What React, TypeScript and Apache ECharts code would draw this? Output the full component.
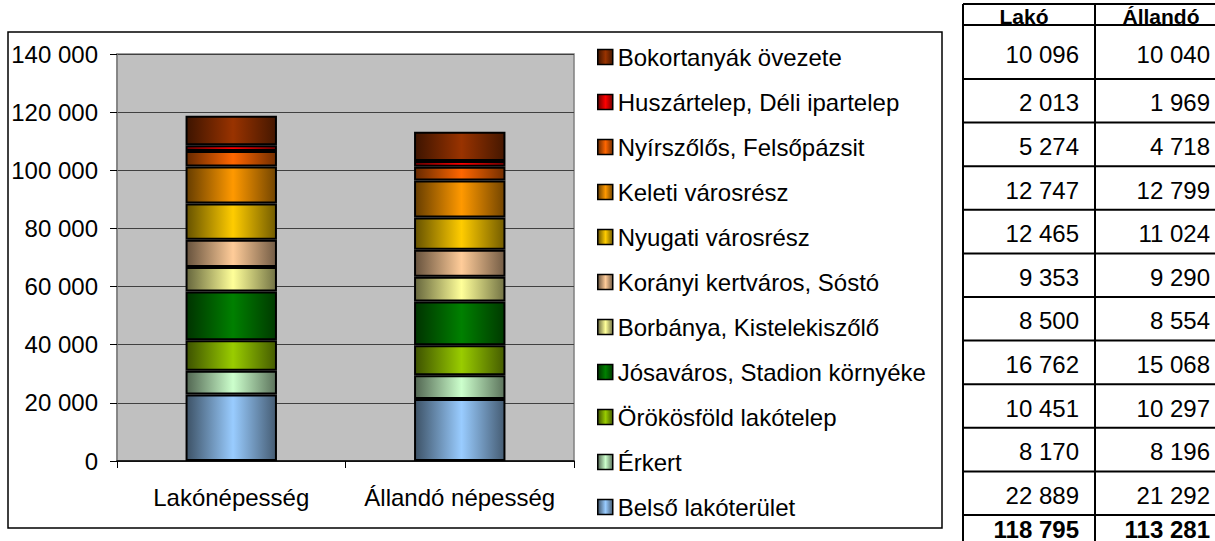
import React, { useEffect, useRef } from "react";
import * as echarts from "echarts";

const categories = ["Lakónépesség", "Állandó népesség"];
const districts = [
  "Belső lakóterület",
  "Érkert",
  "Örökösföld lakótelep",
  "Jósaváros, Stadion környéke",
  "Borbánya, Kistelekiszőlő",
  "Korányi kertváros, Sóstó",
  "Nyugati városrész",
  "Keleti városrész",
  "Nyírszőlős, Felsőpázsit",
  "Huszártelep, Déli ipartelep",
  "Bokortanyák övezete",
];
const lakoValues = [22889, 8170, 10451, 16762, 8500, 9353, 12465, 12747, 5274, 2013, 10096];
const allandoValues = [21292, 8196, 10297, 15068, 8554, 9290, 11024, 12799, 4718, 1969, 10040];
const totals = [118795, 113281];
const tableHeaders = ["Lakó", "Állandó"];
const colors = [
  "#99CCFF",
  "#CCFFCC",
  "#99CC00",
  "#008000",
  "#FFFF99",
  "#FFCC99",
  "#FFCC00",
  "#FF9900",
  "#FF6600",
  "#FF0000",
  "#993300",
];

const FONT = "'Liberation Sans', Arial, sans-serif";
const FS = 24;

function fmt(v: number): string {
  return String(v).replace(/\B(?=(\d{3})+(?!\d))/g, " ");
}

function shade(hex: string, f: number): string {
  const n = parseInt(hex.slice(1), 16);
  const r = Math.round(((n >> 16) & 255) * f);
  const g = Math.round(((n >> 8) & 255) * f);
  const b = Math.round((n & 255) * f);
  return `rgb(${r},${g},${b})`;
}

function grad(hex: string) {
  return new echarts.graphic.LinearGradient(0, 0, 1, 0, [
    { offset: 0, color: shade(hex, 0.4) },
    { offset: 0.52, color: hex },
    { offset: 1, color: shade(hex, 0.45) },
  ]);
}

function buildTable() {
  const els: any[] = [];
  const xL = 963;
  const xM = 1095;
  const xR = 1227;
  const top = 4;
  const headBottom = 25;
  const firstBottom = 79;
  const rowH = 43.6;
  const lines: number[] = [top, headBottom, firstBottom];
  for (let k = 1; k <= 10; k++) lines.push(firstBottom + k * rowH);
  lines.forEach((y) => {
    els.push({
      type: "line",
      shape: { x1: xL, y1: y, x2: xR, y2: y },
      style: { stroke: "#000", lineWidth: 2 },
    });
  });
  [xL, xM].forEach((x) => {
    els.push({
      type: "line",
      shape: { x1: x, y1: top, x2: x, y2: 541 },
      style: { stroke: "#000", lineWidth: 2 },
    });
  });
  const headY = 16;
  els.push({
    type: "text",
    x: (xL + xM) / 2 - 5,
    y: headY,
    style: { text: tableHeaders[0], fontSize: 21, fontFamily: FONT, fontWeight: "bold", fill: "#000", align: "center", verticalAlign: "middle" },
  });
  els.push({
    type: "text",
    x: (xM + xR) / 2,
    y: headY,
    style: { text: tableHeaders[1], fontSize: 21, fontFamily: FONT, fontWeight: "bold", fill: "#000", align: "center", verticalAlign: "middle" },
  });
  const revL = [...lakoValues].reverse();
  const revA = [...allandoValues].reverse();
  for (let i = 0; i < revL.length; i++) {
    const y0 = lines[i + 1];
    const y1 = lines[i + 2];
    const cy = (y0 + y1) / 2 + 2;
    els.push({
      type: "text",
      x: xM - 16,
      y: cy,
      style: { text: fmt(revL[i]), fontSize: FS, fontFamily: FONT, fill: "#000", align: "right", verticalAlign: "middle" },
    });
    els.push({
      type: "text",
      x: xR - 17,
      y: cy,
      style: { text: fmt(revA[i]), fontSize: FS, fontFamily: FONT, fill: "#000", align: "right", verticalAlign: "middle" },
    });
  }
  const lastLine = lines[lines.length - 1];
  const ty = (lastLine + 541) / 2 + 1;
  els.push({
    type: "text",
    x: xM - 16,
    y: ty,
    style: { text: fmt(totals[0]), fontSize: FS, fontFamily: FONT, fontWeight: "bold", fill: "#000", align: "right", verticalAlign: "middle" },
  });
  els.push({
    type: "text",
    x: xR - 17,
    y: ty,
    style: { text: fmt(totals[1]), fontSize: FS, fontFamily: FONT, fontWeight: "bold", fill: "#000", align: "right", verticalAlign: "middle" },
  });
  return els;
}

export default function App() {
  const ref = useRef<HTMLDivElement>(null);
  useEffect(() => {
    if (!ref.current) return;
    const chart = echarts.init(ref.current, null, { renderer: "svg" });
    const series = districts.map((name, i) => ({
      name,
      type: "bar",
      stack: "total",
      barWidth: "40%",
      data: [lakoValues[i], allandoValues[i]],
      itemStyle: { color: grad(colors[i]), borderColor: "#000", borderWidth: 2 },
      emphasis: { disabled: true },
    }));
    chart.setOption({
      animation: false,
      backgroundColor: "#fff",
      textStyle: { fontFamily: FONT },
      grid: {
        left: 117,
        top: 54,
        width: 457,
        height: 407,
        show: true,
        backgroundColor: "#C0C0C0",
        borderColor: "#808080",
        borderWidth: 1.5,
      },
      legend: {
        orient: "vertical",
        left: 597,
        top: 45,
        padding: 0,
        data: [...districts].reverse(),
        itemWidth: 15,
        itemHeight: 15,
        itemGap: 21,
        icon: "rect",
        itemStyle: { borderColor: "#000", borderWidth: 1.5 },
        textStyle: { fontSize: FS, fontFamily: FONT, color: "#000", lineHeight: 24 },
        selectedMode: false,
      },
      xAxis: {
        type: "category",
        data: categories,
        axisLine: { lineStyle: { color: "#000", width: 1.5 } },
        axisTick: { show: true, length: 7, lineStyle: { color: "#000" } },
        axisLabel: { fontSize: FS, fontFamily: FONT, color: "#000", margin: 24, interval: 0, hideOverlap: false },
      },
      yAxis: {
        type: "value",
        min: 0,
        max: 140000,
        interval: 20000,
        axisLine: { show: true, lineStyle: { color: "#808080", width: 1.5 } },
        axisTick: { show: true, length: 7, lineStyle: { color: "#000" } },
        axisLabel: { fontSize: FS, fontFamily: FONT, color: "#000", margin: 19, formatter: (v: number) => fmt(v) },
        splitLine: { show: true, lineStyle: { color: "#404040", width: 1 } },
      },
      series,
      graphic: [
        {
          type: "rect",
          shape: { x: 8, y: 32, width: 934, height: 496 },
          style: { fill: "none", stroke: "#000", lineWidth: 1.5 },
          z: -1,
        },
        ...buildTable(),
      ],
    });
    return () => chart.dispose();
  }, []);
  return <div ref={ref} style={{ position: "fixed", left: 0, top: 0, width: 1215, height: 541 }} />;
}
